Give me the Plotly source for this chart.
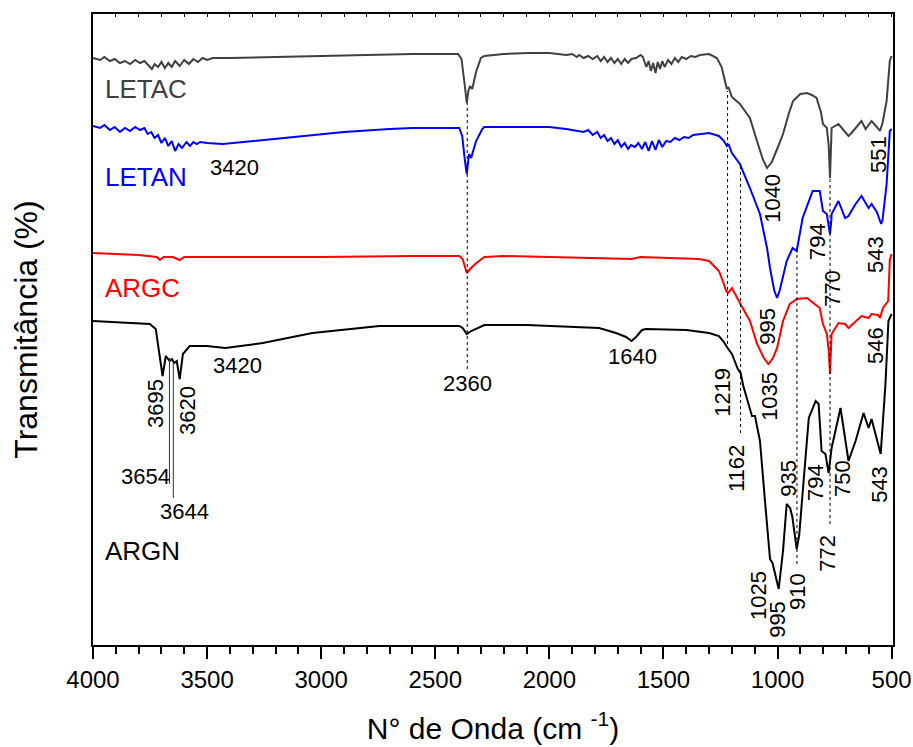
import plotly.graph_objects as go

# ---- data (wavenumber in cm-1, transmittance in arbitrary offset units) ----
wn_letac = [4000,3969,3950,3926,3905,3882,3860,3838,3815,3794,3775,3760,3742,3730,3715,3700,3685,3670,3655,3640,3620,3600,3580,3560,3540,3520,3500,3475,3400,3200,3000,2800,2600,2400,2385,2372,2362,2355,2348,2338,2320,2300,2285,2200,2088,2000,1926,1900,1880,1869,1850,1830,1810,1790,1775,1760,1745,1730,1715,1700,1685,1670,1655,1640,1620,1600,1590,1575,1565,1555,1545,1535,1525,1515,1505,1495,1480,1465,1450,1435,1420,1400,1380,1360,1340,1300,1266,1245,1230,1222,1215,1200,1165,1121,1090,1065,1046,1025,1000,976,950,932,900,871,850,829,810,801,784,776,770,765,763,733,689,676,632,614,588,565,551,540,522,508,500]
t_letac = [587,585,588,584,586,582,584,581,585,582,584,580,576,581,578,583,577,582,578,584,579,585,581,586,583,587,585,587,587,588,589,590,591,591,586,562,542,554,559,556,574,587,589,591,592,592,590,591,588,590,587,589,586,589,584,588,583,587,582,586,581,586,582,586,587,590,588,578,584,574,582,572,583,576,584,578,585,581,587,583,588,586,589,588,590,591,587,578,562,556,558,548,541,527,504,486,477,483,497,511,532,544,551,552,550,547,533,521,517,500,467,505,517,521,509,512,524,516,524,518,514,522,544,584,589]

wn_letan = [4000,3969,3950,3926,3905,3882,3860,3838,3815,3794,3775,3760,3745,3730,3715,3700,3685,3670,3655,3640,3625,3610,3590,3575,3560,3545,3530,3500,3431,3300,3100,2900,2700,2600,2395,2382,2370,2362,2352,2343,2321,2294,2285,2100,2001,1926,1880,1850,1830,1810,1790,1775,1760,1745,1730,1715,1700,1685,1670,1655,1642,1625,1610,1594,1580,1565,1550,1535,1520,1505,1488,1470,1450,1430,1410,1390,1370,1344,1300,1257,1235,1222,1215,1200,1165,1121,1077,1046,1033,1015,1002,990,960,934,916,890,846,815,801,784,776,770,764,763,733,704,689,658,632,601,588,565,546,540,522,508,500]
t_letan = [519,517,520,515,518,513,517,514,518,515,517,511,513,507,510,502,507,499,504,494,501,497,503,499,503,501,503,502,501,504,509,513,516,517,517,509,484,471,491,487,504,516,518,518,518,516,514,513,515,510,513,507,510,504,507,501,505,498,502,496,500,498,502,496,503,494,504,495,505,498,504,503,507,505,508,507,510,511,512,509,504,499,501,492,481,457,431,397,377,355,347,355,384,397,394,427,454,454,434,431,420,411,425,431,444,427,429,441,449,437,441,433,421,425,461,514,516]

wn_argc = [4000,3900,3800,3720,3707,3690,3650,3620,3600,3400,3000,2600,2395,2380,2362,2343,2320,2285,2200,2000,1800,1640,1600,1500,1344,1300,1257,1240,1225,1217,1200,1165,1121,1090,1060,1040,1020,1002,976,946,915,871,815,801,784,776,770,765,763,733,704,689,658,632,601,588,560,551,538,515,508,500]
t_argc = [392,391,390,388,385,388,388,385,388,388,388,389,389,386,372,377,382,388,389,388,387,386,388,387,386,384,374,364,354,352,357,342,324,301,287,281,287,297,324,341,346,347,337,321,311,295,271,300,311,322,321,317,324,329,327,331,330,327,337,344,385,391]

wn_argn = [4000,3900,3800,3751,3725,3710,3695,3681,3664,3654,3644,3633,3620,3606,3576,3501,3420,3256,3038,2745,2395,2380,2362,2343,2321,2285,2100,1926,1782,1708,1664,1640,1620,1594,1576,1400,1300,1257,1235,1222,1215,1200,1174,1162,1150,1130,1112,1099,1077,1055,1033,1022,1015,995,976,960,945,935,916,905,894,863,833,820,807,790,776,763,724,711,689,658,623,601,588,548,527,514,500]
t_argn = [324,323,322,321,316,290,269,289,284,286,282,284,266,291,299,299,297,302,312,319,319,317,311,314,316,320,320,318,317,312,308,304,308,315,316,315,312,309,303,298,296,291,276,272,259,244,229,229,204,144,86,82,76,56,94,141,137,128,96,110,141,227,244,241,194,191,172,197,237,217,184,204,232,217,226,191,261,324,331]

series = [
    ("LETAC", wn_letac, t_letac, "#404040"),
    ("LETAN", wn_letan, t_letan, "#0000FF"),
    ("ARGC", wn_argc, t_argc, "#FF0000"),
    ("ARGN", wn_argn, t_argn, "#000000"),
]

# dashed guide lines: wavenumber, lower, upper (same units as the spectra)
guide_wn = [2360, 1219, 1162, 915, 770]
guide_lo = [276, 301, 212, 81, 121]
guide_hi = [542, 554, 481, 397, 467]

# thin solid leader lines for 3654 / 3644
leader_wn = [3665, 3648]
leader_lo = [161, 147]
leader_hi = [287, 282]

# peak labels: text, x (cm-1), y, rotated?
peak_labels = [
    ("3420", 3378, 478, False), ("3420", 3365, 280, False), ("2360", 2357, 262, False),
    ("1640", 1634, 289, False), ("3654", 3768, 169, False), ("3644", 3597, 134, False),
    ("3695", 3728, 241, True), ("3620", 3588, 234, True), ("1219", 1244, 253, True),
    ("1162", 1182, 176, True), ("1035", 1038, 249, True), ("995", 1047, 319, True),
    ("1040", 1025, 447, True), ("794", 827, 403, True), ("770", 762, 357, True),
    ("551", 560, 491, True), ("543", 573, 391, True), ("546", 573, 300, True),
    ("935", 955, 167, True), ("794", 836, 163, True), ("750", 718, 167, True),
    ("543", 556, 161, True), ("772", 784, 92, True), ("1025", 1086, 50, True),
    ("995", 1003, 26, True), ("910", 915, 54, True),
]
name_y = [556, 468, 357, 94]

FONT = "Liberation Sans, Arial, sans-serif"

fig = go.Figure()
for i, (name, wn, t, col) in enumerate(series):
    fig.add_trace(go.Scatter(x=wn, y=t, mode="lines", name=name,
                             line=dict(color=col, width=2),
                             xaxis="x2" if i == 0 else "x", showlegend=False))

shapes = []
for w, lo, hi in zip(guide_wn, guide_lo, guide_hi):
    shapes.append(dict(type="line", xref="x", yref="y", x0=w, x1=w, y0=lo, y1=hi,
                       line=dict(color="black", width=1, dash="3px,3px")))
for w, lo, hi in zip(leader_wn, leader_lo, leader_hi):
    shapes.append(dict(type="line", xref="x", yref="y", x0=w, x1=w, y0=lo, y1=hi,
                       line=dict(color="#333333", width=1)))

ann = []
for txt, x, y, rot in peak_labels:
    ann.append(dict(text=txt, x=x, y=y, xref="x", yref="y", showarrow=False,
                    textangle=-90 if rot else 0,
                    font=dict(family=FONT, size=22, color="black")))
for (name, wn, t, col), y in zip(series, name_y):
    ann.append(dict(text=name, x=3956, y=y, xref="x", yref="y", showarrow=False,
                    xanchor="left", font=dict(family=FONT, size=26, color=col)))

fig.update_layout(
    width=913, height=747,
    margin=dict(l=93, r=20, t=14, b=102),
    paper_bgcolor="white", plot_bgcolor="white",
    font=dict(family=FONT, color="black"),
    shapes=shapes, annotations=ann,
    xaxis=dict(range=[4000, 494], tickmode="linear", tick0=500, dtick=500, automargin=False,
               ticks="outside", ticklen=12, tickwidth=2, tickcolor="black",
               minor=dict(dtick=100, ticks="outside", ticklen=7, tickwidth=1.5, tickcolor="black"),
               showline=True, linewidth=2, linecolor="black", showgrid=False, zeroline=False,
               tickfont=dict(family=FONT, size=24),
               title=dict(text="N° de Onda (cm <sup>-1</sup>)", font=dict(family=FONT, size=30), standoff=26)),
    xaxis2=dict(overlaying="x", side="top", matches="x", tickmode="linear", tick0=500, dtick=100,
                ticks="inside", ticklen=3, tickwidth=1, tickcolor="black", automargin=False,
                showticklabels=False, showline=True, linewidth=2, linecolor="black",
                showgrid=False, zeroline=False),
    yaxis=dict(range=[0, 631], showticklabels=False, ticks="", showline=True, mirror=True,
               automargin=False, linewidth=2, linecolor="black", showgrid=False, zeroline=False,
               title=dict(text="Transmitância (%)", font=dict(family=FONT, size=32), standoff=44)),
)

fig.write_html("out.html", config={"displayModeBar": False},
               post_script="document.body.style.margin='0';")
